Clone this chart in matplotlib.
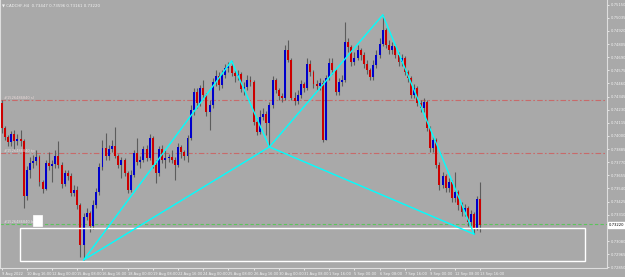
import numpy as np
import matplotlib.pyplot as plt
from matplotlib.patches import Rectangle

# CADCHF H4, 9 Aug 2022 08:00 .. 13 Sep 2022 16:00
first_open = 0.74289
closes = [
    0.74070, 0.73991, 0.73947, 0.74017, 0.73956, 0.73974, 0.73956, 0.73474, 0.73702, 0.73763,
    0.73781, 0.73816, 0.73597, 0.73536, 0.73763, 0.73737, 0.73755, 0.73825, 0.73746, 0.73580,
    0.73676, 0.73650, 0.73501, 0.73527, 0.73396, 0.73045, 0.73291, 0.73326, 0.73212, 0.73396,
    0.73509, 0.73728, 0.73895, 0.73825, 0.73886, 0.73912, 0.73825, 0.73746, 0.73790, 0.73676,
    0.73527, 0.73658, 0.73851, 0.73772, 0.73790, 0.73886, 0.73807, 0.73982, 0.73746, 0.73676,
    0.73886, 0.73790, 0.73807, 0.73816, 0.73790, 0.73746, 0.73904, 0.73860, 0.73825, 0.73982,
    0.74228, 0.74385, 0.74289, 0.74420, 0.74359, 0.74210, 0.74271, 0.74473, 0.74525, 0.74447,
    0.74534, 0.74595, 0.74613, 0.74552, 0.74525, 0.74543, 0.74412, 0.74429, 0.74490, 0.74473,
    0.74122, 0.74035, 0.74166, 0.74193, 0.74114, 0.74271, 0.74490, 0.74403, 0.74350, 0.74333,
    0.74753, 0.74665, 0.74333, 0.74306, 0.74359, 0.74455, 0.74420, 0.74630, 0.74560, 0.74455,
    0.74438, 0.74464, 0.73965, 0.74508, 0.74639, 0.74578, 0.74385, 0.74473, 0.74490, 0.74823,
    0.74779, 0.74648, 0.74683, 0.74753, 0.74709, 0.74630, 0.74578, 0.74517, 0.74622, 0.74709,
    0.74806, 0.74928, 0.74797, 0.74753, 0.74788, 0.74709, 0.74648, 0.74683, 0.74560, 0.74508,
    0.74359, 0.74420, 0.74289, 0.74245, 0.74298, 0.74070, 0.73895, 0.73965, 0.73746, 0.73571,
    0.73650, 0.73544, 0.73597, 0.73457, 0.73509, 0.73396, 0.73334, 0.73369, 0.73247, 0.73317,
    0.73194, 0.73447, 0.73220,
]
highs = [
    0.74315, 0.74087, 0.74009, 0.74044, 0.74052, 0.74017, 0.74052, 0.73974, 0.73737, 0.73816,
    0.73834, 0.73877, 0.73834, 0.73615, 0.73790, 0.73860, 0.73790, 0.73877, 0.73956, 0.73772,
    0.73702, 0.73702, 0.73676, 0.73571, 0.73562, 0.73413, 0.73326, 0.73369, 0.73343, 0.73439,
    0.73544, 0.73763, 0.73965, 0.74026, 0.73921, 0.73965, 0.74079, 0.73842, 0.73816, 0.73807,
    0.73693, 0.73702, 0.73877, 0.73982, 0.73825, 0.73912, 0.73921, 0.74017, 0.74000, 0.73790,
    0.73912, 0.73921, 0.73877, 0.73842, 0.73877, 0.73816, 0.73939, 0.73921, 0.73877, 0.74009,
    0.74271, 0.74420, 0.74420, 0.74447, 0.74490, 0.74377, 0.74315, 0.74508, 0.74578, 0.74560,
    0.74578, 0.74630, 0.74648, 0.74657, 0.74578, 0.74578, 0.74560, 0.74473, 0.74534, 0.74525,
    0.74490, 0.74158, 0.74228, 0.74245, 0.74219, 0.74298, 0.74525, 0.74508, 0.74420, 0.74377,
    0.74797, 0.74841, 0.74683, 0.74385, 0.74403, 0.74490, 0.74473, 0.74683, 0.74665, 0.74578,
    0.74490, 0.74508, 0.74490, 0.74534, 0.74683, 0.74683, 0.74595, 0.74508, 0.74534, 0.74998,
    0.74858, 0.74797, 0.74736, 0.74797, 0.74771, 0.74736, 0.74665, 0.74595, 0.74665, 0.74753,
    0.74858, 0.75060, 0.74946, 0.74841, 0.74823, 0.74806, 0.74736, 0.74718, 0.74701, 0.74578,
    0.74525, 0.74455, 0.74438, 0.74315, 0.74333, 0.74315, 0.74087, 0.74000, 0.73982, 0.73772,
    0.73685, 0.73667, 0.73632, 0.73615, 0.73685, 0.73527, 0.73422, 0.73404, 0.73387, 0.73352,
    0.73334, 0.73474, 0.73596,
]
lows = [
    0.74026, 0.73965, 0.73912, 0.73912, 0.73886, 0.73921, 0.73912, 0.73369, 0.73439, 0.73632,
    0.73720, 0.73746, 0.73562, 0.73501, 0.73527, 0.73702, 0.73597, 0.73720, 0.73720, 0.73544,
    0.73562, 0.73615, 0.73474, 0.73474, 0.73361, 0.72940, 0.72914, 0.73264, 0.73159, 0.73185,
    0.73369, 0.73483, 0.73702, 0.73790, 0.73790, 0.73860, 0.73807, 0.73720, 0.73632, 0.73650,
    0.73501, 0.73509, 0.73641, 0.73746, 0.73720, 0.73772, 0.73781, 0.73790, 0.73720, 0.73588,
    0.73650, 0.73763, 0.73720, 0.73772, 0.73763, 0.73615, 0.73728, 0.73807, 0.73790, 0.73772,
    0.73965, 0.74184, 0.74245, 0.74263, 0.74333, 0.74175, 0.74052, 0.74245, 0.74438, 0.74403,
    0.74420, 0.74508, 0.74560, 0.74525, 0.74473, 0.74490, 0.74385, 0.74359, 0.74403, 0.74438,
    0.74096, 0.74009, 0.74017, 0.74140, 0.74009, 0.73904, 0.74245, 0.74377, 0.74315, 0.74298,
    0.74315, 0.74648, 0.74315, 0.74271, 0.74280, 0.74333, 0.74385, 0.74403, 0.74525, 0.74420,
    0.74403, 0.74403, 0.73947, 0.73965, 0.74490, 0.74543, 0.74359, 0.74359, 0.74438, 0.74473,
    0.74736, 0.74613, 0.74622, 0.74665, 0.74665, 0.74595, 0.74543, 0.74490, 0.74490, 0.74595,
    0.74683, 0.74788, 0.74771, 0.74718, 0.74718, 0.74683, 0.74613, 0.74613, 0.74534, 0.74473,
    0.74333, 0.74333, 0.74263, 0.74210, 0.74210, 0.74044, 0.73860, 0.73860, 0.73720, 0.73527,
    0.73544, 0.73509, 0.73509, 0.73422, 0.73422, 0.73352, 0.73299, 0.73299, 0.73212, 0.73212,
    0.73140, 0.73177, 0.73161,
]
opens = [first_open] + closes[:-1]

# harmonic pattern points X A B C D (bar index)
pattern_bars = [26, 73, 85, 121, 150]
pattern_prices = [0.72914, 0.74657, 0.73904, 0.75060, 0.73140]
pattern_legs = [(0, 1), (1, 2), (0, 2), (2, 3), (3, 4), (2, 4)]

# order lines
red_levels = [0.74315, 0.73849]
green_level = 0.73229
level_labels = ["#1526486840 sl", "#1526486840 tp", "#1526486840 buy"]
current_price = 0.73220

price_ticks = [0.75150, 0.75035, 0.74920, 0.74805, 0.74690, 0.74575, 0.74460, 0.74345,
               0.74230, 0.74115, 0.74000, 0.73885, 0.73770, 0.73655, 0.73540, 0.73425,
               0.73310, 0.73195, 0.73080, 0.72965, 0.72850]
time_labels = ["9 Aug 2022", "10 Aug 16:00", "12 Aug 00:00", "15 Aug 08:00", "16 Aug 16:00",
               "18 Aug 00:00", "19 Aug 08:00", "22 Aug 16:00", "24 Aug 00:00", "25 Aug 08:00",
               "26 Aug 16:00", "30 Aug 00:00", "31 Aug 08:00", "1 Sep 16:00", "5 Sep 00:00",
               "6 Sep 08:00", "7 Sep 16:00", "9 Sep 00:00", "12 Sep 08:00", "13 Sep 16:00"]

bg = '#a9a9a9'
fg = '#f2f2f2'

fig = plt.figure(figsize=(6.25, 2.77), dpi=100, facecolor=bg)
ax = fig.add_axes([0, 1 - 268.3 / 277, 607 / 625, 268.3 / 277])
ax.set_facecolor(bg)

x = np.arange(len(closes))
o = np.array(opens)
c = np.array(closes)
h = np.array(highs)
l = np.array(lows)
up = c >= o

# candles
ax.vlines(x, l, h, color='#5c5c5c', lw=0.8, zorder=2)
ax.bar(x[up], (c - o)[up], bottom=o[up], width=0.62, color='#0000cc', lw=0, zorder=3)
ax.bar(x[~up], (c - o)[~up], bottom=o[~up], width=0.62, color='#cc0000', lw=0, zorder=3)

# levels
for lev, lab in zip(red_levels, level_labels[:2]):
    ax.axhline(lev, color='#c86a6a', lw=0.8, ls=(0, (5, 2, 1.5, 2)), zorder=1)
    ax.text(0.006, lev + 0.00004, lab, transform=ax.get_yaxis_transform(),
            fontsize=2.6, color='#eadada', va='bottom')
ax.axhline(green_level, color='#5cc45c', lw=0.8, ls=(0, (3, 2)), zorder=1)
ax.text(0.006, green_level + 0.00004, level_labels[2], transform=ax.get_yaxis_transform(),
        fontsize=2.6, color='#e6e6e6', va='bottom')

# zone rectangle and small box
ax.add_patch(Rectangle((5.8, 0.72901), 179.4, 0.00296, fill=False, ec='white', lw=1.0, zorder=4))
ax.add_patch(Rectangle((9.9, 0.73212), 2.9, 0.00096, fc='white', ec='white', lw=0.5, zorder=4))

# pattern
for a, b in pattern_legs:
    ax.plot([pattern_bars[a], pattern_bars[b]], [pattern_prices[a], pattern_prices[b]],
            color='#00ffff', lw=1.0, zorder=5, solid_capstyle='round')

ax.set_xlim(-0.54, 192.2)
ax.set_ylim(0.72841, 0.75191)

# price axis
ax.yaxis.tick_right()
ax.set_yticks(price_ticks)
ax.set_yticklabels(['%.5f' % v for v in price_ticks])
ax.tick_params(axis='y', colors=fg, labelsize=2.7, length=1.5, width=0.6, pad=1.0)
ax.text(1.003, current_price, '%.5f' % current_price, transform=ax.get_yaxis_transform(),
        fontsize=2.7, color='black', va='center', ha='left', clip_on=False,
        bbox=dict(boxstyle='square,pad=0.2', fc='white', ec='white'))

# time axis
ax.set_xticks(np.arange(0, len(closes), 8))
ax.set_xticklabels(time_labels, ha='left')
ax.tick_params(axis='x', colors=fg, labelsize=2.6, length=1.5, width=0.6, pad=1.0)

ax.spines['top'].set_visible(False)
for side in ['right', 'bottom', 'left']:
    ax.spines[side].set_color('#dedede')
    ax.spines[side].set_linewidth(0.8)

fig.text(0.004, 0.988, "▼ CADCHF,H4  0.73447 0.73596 0.73161 0.73220",
         fontsize=2.8, color=fg, va='top', ha='left')

fig.savefig('out.png', dpi=100, facecolor=bg)
